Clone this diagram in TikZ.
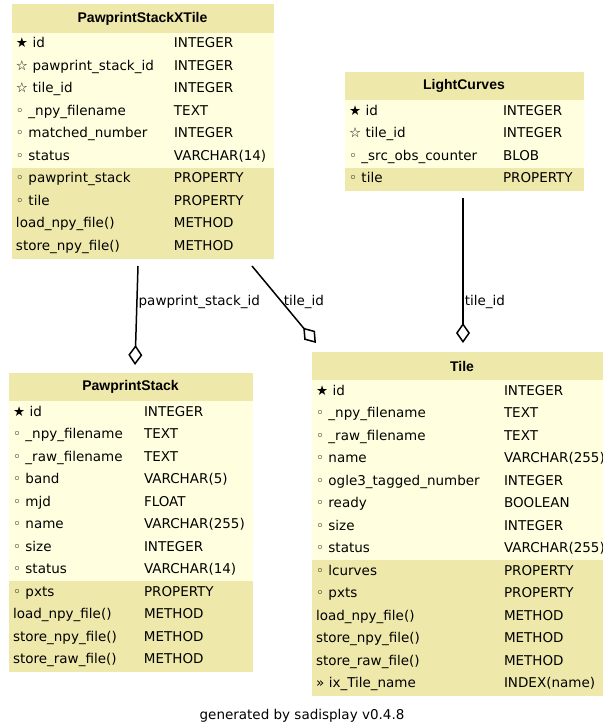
\documentclass[tikz,border=0pt]{standalone}
\usepackage{fontspec}
\setmainfont{DejaVu Sans}
\newfontfamily\titlefont{Liberation Sans}
\usepackage{xcolor}
\usepackage{tikz}
\usetikzlibrary{positioning,arrows.meta}

\definecolor{headcol}{HTML}{EEE8AA}
\definecolor{bodycol}{HTML}{FFFFE0}
\newlength\colw
\newcommand{\fld}[2]{\makebox[\colw][l]{#1}#2}

\tikzset{
  tblhead/.style={fill=headcol, draw=headcol, line width=0.4pt, outer sep=0pt, minimum width=#1,
    minimum height=28.5pt, inner sep=0pt, font=\titlefont\bfseries\fontsize{14pt}{16pt}\selectfont},
  bodyrow/.style={fill=bodycol, draw=bodycol, line width=0.4pt, outer sep=0pt, text width=#1,
    inner xsep=4pt, inner ysep=0pt, text height=10pt, text depth=3.5pt, minimum height=22.5pt, align=left},
  proprow/.style={bodyrow=#1, fill=headcol, draw=headcol},
  fklink/.style={line width=1.5pt, -{Diamond[open, length=20pt, width=14pt]}},
  fklabel/.style={anchor=west, inner sep=1pt}
}

\begin{document}
\begin{tikzpicture}[x=1pt, y=-1pt, node distance=0pt, font=\fontsize{13.5pt}{16pt}\selectfont]
    \useasboundingbox (0,0) rectangle (603,724);

    % PawprintStackXTile
    \setlength\colw{158pt}
    \node [tblhead=261pt, anchor=north west] (xt0) at (12,4.5) {PawprintStackXTile};
    \node [bodyrow=253pt, below=of xt0] (xt1) {\fld{★ id}{INTEGER}};
    \node [bodyrow=253pt, below=of xt1] (xt2) {\fld{☆ pawprint\_stack\_id}{INTEGER}};
    \node [bodyrow=253pt, below=of xt2] (xt3) {\fld{☆ tile\_id}{INTEGER}};
    \node [bodyrow=253pt, below=of xt3] (xt4) {\fld{◦ \_npy\_filename}{TEXT}};
    \node [bodyrow=253pt, below=of xt4] (xt5) {\fld{◦ matched\_number}{INTEGER}};
    \node [bodyrow=253pt, below=of xt5] (xt6) {\fld{◦ status}{VARCHAR(14)}};
    \node [proprow=253pt, below=of xt6] (xt7) {\fld{◦ pawprint\_stack}{PROPERTY}};
    \node [proprow=253pt, below=of xt7] (xt8) {\fld{◦ tile}{PROPERTY}};
    \node [proprow=253pt, below=of xt8] (xt9) {\fld{load\_npy\_file()}{METHOD}};
    \node [proprow=253pt, below=of xt9] (xt10) {\fld{store\_npy\_file()}{METHOD}};

    % LightCurves
    \setlength\colw{154pt}
    \node [tblhead=238pt, anchor=north west] (lc0) at (345,72) {LightCurves};
    \node [bodyrow=230pt, below=of lc0] (lc1) {\fld{★ id}{INTEGER}};
    \node [bodyrow=230pt, below=of lc1] (lc2) {\fld{☆ tile\_id}{INTEGER}};
    \node [bodyrow=230pt, below=of lc2] (lc3) {\fld{◦ \_src\_obs\_counter}{BLOB}};
    \node [proprow=230pt, below=of lc3] (lc4) {\fld{◦ tile}{PROPERTY}};

    % PawprintStack
    \setlength\colw{131pt}
    \node [tblhead=243pt, anchor=north west] (ps0) at (9,373) {PawprintStack};
    \node [bodyrow=235pt, below=of ps0] (ps1) {\fld{★ id}{INTEGER}};
    \node [bodyrow=235pt, below=of ps1] (ps2) {\fld{◦ \_npy\_filename}{TEXT}};
    \node [bodyrow=235pt, below=of ps2] (ps3) {\fld{◦ \_raw\_filename}{TEXT}};
    \node [bodyrow=235pt, below=of ps3] (ps4) {\fld{◦ band}{VARCHAR(5)}};
    \node [bodyrow=235pt, below=of ps4] (ps5) {\fld{◦ mjd}{FLOAT}};
    \node [bodyrow=235pt, below=of ps5] (ps6) {\fld{◦ name}{VARCHAR(255)}};
    \node [bodyrow=235pt, below=of ps6] (ps7) {\fld{◦ size}{INTEGER}};
    \node [bodyrow=235pt, below=of ps7] (ps8) {\fld{◦ status}{VARCHAR(14)}};
    \node [proprow=235pt, below=of ps8] (ps9) {\fld{◦ pxts}{PROPERTY}};
    \node [proprow=235pt, below=of ps9] (ps10) {\fld{load\_npy\_file()}{METHOD}};
    \node [proprow=235pt, below=of ps10] (ps11) {\fld{store\_npy\_file()}{METHOD}};
    \node [proprow=235pt, below=of ps11] (ps12) {\fld{store\_raw\_file()}{METHOD}};

    % Tile
    \setlength\colw{188pt}
    \node [tblhead=300pt, anchor=north west] (tl0) at (312,352) {Tile};
    \node [bodyrow=292pt, below=of tl0] (tl1) {\fld{★ id}{INTEGER}};
    \node [bodyrow=292pt, below=of tl1] (tl2) {\fld{◦ \_npy\_filename}{TEXT}};
    \node [bodyrow=292pt, below=of tl2] (tl3) {\fld{◦ \_raw\_filename}{TEXT}};
    \node [bodyrow=292pt, below=of tl3] (tl4) {\fld{◦ name}{VARCHAR(255)}};
    \node [bodyrow=292pt, below=of tl4] (tl5) {\fld{◦ ogle3\_tagged\_number}{INTEGER}};
    \node [bodyrow=292pt, below=of tl5] (tl6) {\fld{◦ ready}{BOOLEAN}};
    \node [bodyrow=292pt, below=of tl6] (tl7) {\fld{◦ size}{INTEGER}};
    \node [bodyrow=292pt, below=of tl7] (tl8) {\fld{◦ status}{VARCHAR(255)}};
    \node [proprow=292pt, below=of tl8] (tl9) {\fld{◦ lcurves}{PROPERTY}};
    \node [proprow=292pt, below=of tl9] (tl10) {\fld{◦ pxts}{PROPERTY}};
    \node [proprow=292pt, below=of tl10] (tl11) {\fld{load\_npy\_file()}{METHOD}};
    \node [proprow=292pt, below=of tl11] (tl12) {\fld{store\_npy\_file()}{METHOD}};
    \node [proprow=292pt, below=of tl12] (tl13) {\fld{store\_raw\_file()}{METHOD}};
    \node [proprow=292pt, below=of tl13] (tl14) {\fld{» ix\_Tile\_name}{INDEX(name)}};

    % foreign keys
    \draw [fklink] ([shift={(126,8)}]xt10.south west) -- node [fklabel, pos=0.36] {pawprint\_stack\_id} ([shift={(126,-8)}]ps0.north west);
    \draw [fklink] ([shift={(240,8)}]xt10.south west) -- node [fklabel, pos=0.47] {tile\_id} ([shift={(4,-9)}]tl0.north west);
    \draw [fklink] ([shift={(118,7.5)}]lc4.south west) -- node [fklabel, pos=0.72] {tile\_id} ([shift={(151,-9)}]tl0.north west);

    \node (foot) at (302,716) {generated by sadisplay v0.4.8};
\end{tikzpicture}
\end{document}
